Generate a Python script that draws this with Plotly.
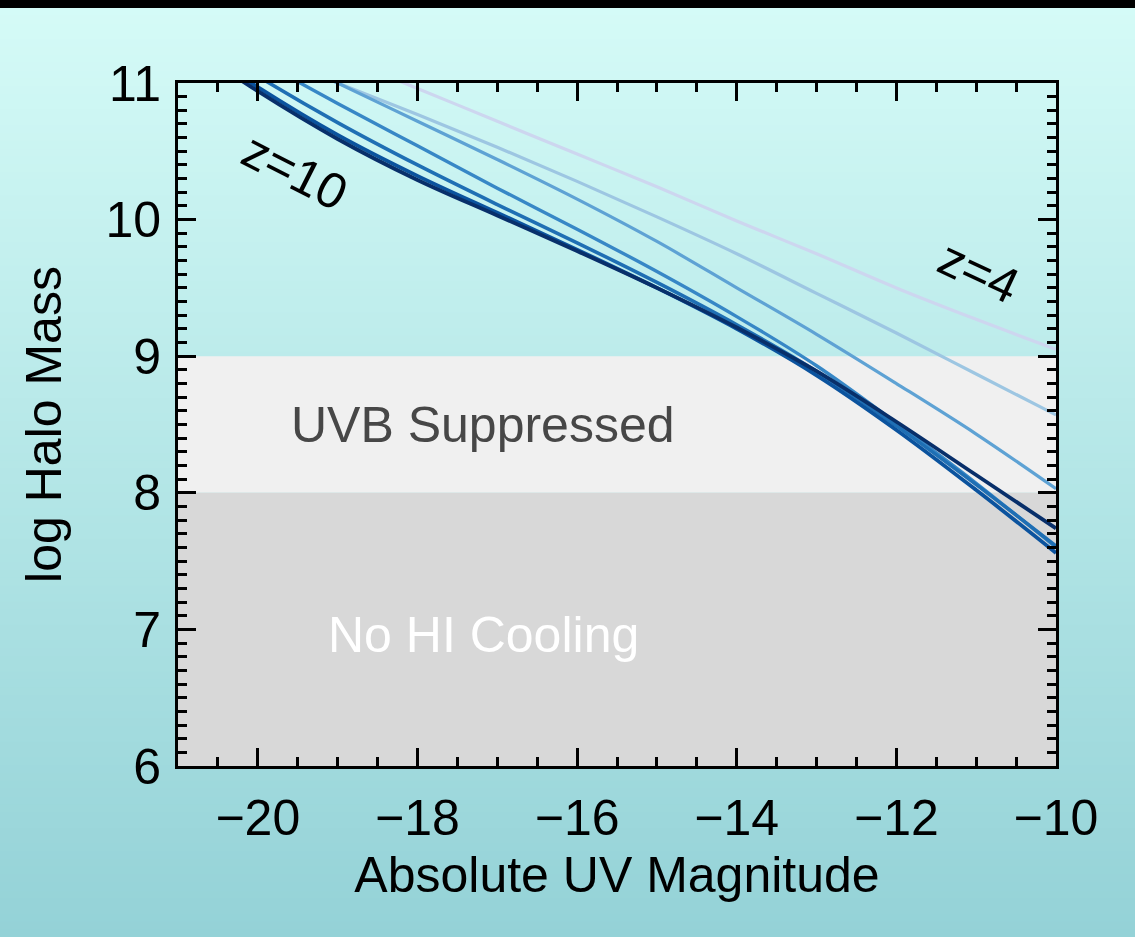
import plotly.graph_objects as go

# ---- data ----
mag = [-21, -20, -19, -18, -17, -16, -15, -14, -13, -12, -11, -10]
redshifts = ["z=4", "z=5", "z=6", "z=7", "z=8", "z=9", "z=10"]
mh_z4 = [11.68, 11.44, 11.20, 10.96, 10.72, 10.48, 10.24, 9.99, 9.75, 9.50, 9.27, 9.05]
mh_z5 = [11.48, 11.24, 11.00, 10.77, 10.53, 10.28, 10.02, 9.75, 9.46, 9.17, 8.87, 8.57]
mh_z6 = [11.58, 11.29, 11.00, 10.72, 10.44, 10.15, 9.84, 9.50, 9.16, 8.80, 8.43, 8.03]
mh_z7 = [11.50, 11.17, 10.85, 10.54, 10.23, 9.93, 9.62, 9.29, 8.93, 8.51, 8.07, 7.60]
mh_z8 = [11.42, 11.05, 10.71, 10.40, 10.11, 9.83, 9.54, 9.23, 8.89, 8.49, 8.06, 7.61]
mh_z9 = [11.36, 10.97, 10.62, 10.32, 10.05, 9.78, 9.50, 9.20, 8.86, 8.46, 8.02, 7.56]
mh_z10 = [11.33, 10.94, 10.59, 10.29, 10.03, 9.77, 9.50, 9.21, 8.89, 8.52, 8.13, 7.74]
series = [mh_z4, mh_z5, mh_z6, mh_z7, mh_z8, mh_z9, mh_z10]
colors = ["#cdd6ef", "#9dc6e2", "#5ea2d4", "#3787c6", "#1f6fb4", "#0b539e", "#082f6a"]
widths = [3.2, 3.2, 3.2, 3.4, 3.6, 3.8, 3.8]

x_ticks = [-20, -18, -16, -14, -12, -10]
y_ticks = [6, 7, 8, 9, 10, 11]

FONT = "Liberation Sans, Arial, Helvetica, sans-serif"
FS = 50

fig = go.Figure()
for name, vals, col, w in zip(redshifts, series, colors, widths):
    fig.add_trace(go.Scatter(x=mag, y=vals, mode="lines", name=name,
                             line=dict(color=col, width=w, shape="spline", smoothing=1.0),
                             showlegend=False))

W, H = 1135, 937
L, R, T, B = 178, 79, 83, 171
pw, ph = W - L - R, H - T - B

def px2x(px):
    return (px - L) / pw

def py2y(py):
    return (H - B - py) / ph

# background gradient (paper shapes)
shapes = []
top_c = (213, 251, 247)
bot_c = (148, 210, 215)
n = 120
for i in range(n):
    f = i / (n - 1)
    c = tuple(int(round(top_c[k] + (bot_c[k] - top_c[k]) * f)) for k in range(3))
    y0 = py2y(H * i / n)
    y1 = py2y(H * (i + 1) / n + 1)
    shapes.append(dict(type="rect", xref="paper", yref="paper", x0=px2x(0), x1=px2x(W),
                       y0=y1, y1=y0, fillcolor="rgb(%d,%d,%d)" % c, line=dict(width=0), layer="below"))
# black strip at top
shapes.append(dict(type="rect", xref="paper", yref="paper", x0=px2x(0), x1=px2x(W),
                   y0=py2y(8), y1=py2y(0), fillcolor="black", line=dict(width=0), layer="below"))
# suppression regions
shapes.append(dict(type="rect", xref="paper", yref="y", x0=0, x1=1, y0=8, y1=9,
                   fillcolor="#f0f0f0", line=dict(width=0), layer="below"))
shapes.append(dict(type="rect", xref="paper", yref="y", x0=0, x1=1, y0=6, y1=8,
                   fillcolor="#d8d8d8", line=dict(width=0), layer="below"))

annotations = [
    dict(x=-19.53, y=10.35, text="z=10", showarrow=False, textangle=27,
         font=dict(family=FONT, size=FS, color="black")),
    dict(x=-10.97, y=9.62, text="z=4", showarrow=False, textangle=25,
         font=dict(family=FONT, size=FS, color="black")),
    dict(x=-17.18, y=8.5, text="UVB Suppressed", showarrow=False,
         font=dict(family=FONT, size=FS, color="#474747")),
    dict(x=-17.17, y=6.96, text="No HI Cooling", showarrow=False,
         font=dict(family=FONT, size=FS, color="white")),
]

axis_common = dict(showgrid=False, zeroline=False, showline=True, linecolor="black",
                   linewidth=3, mirror="ticks", ticks="inside", tickwidth=3,
                   ticklen=18, tickcolor="black",
                   tickfont=dict(family=FONT, size=FS, color="black"))

fig.update_layout(
    width=W, height=H,
    margin=dict(l=L, r=R, t=T, b=B, autoexpand=False),
    paper_bgcolor="rgb(213,251,247)",
    plot_bgcolor="rgba(0,0,0,0)",
    shapes=shapes,
    annotations=annotations,
    xaxis=dict(range=[-21, -10], tickvals=x_ticks, ticklabelstandoff=6,
               minor=dict(ticks="inside", dtick=0.5, tick0=-21, ticklen=9, tickwidth=2.5, tickcolor="black"),
               title=dict(text="Absolute UV Magnitude", standoff=12,
                          font=dict(family=FONT, size=FS, color="black")),
               **axis_common),
    yaxis=dict(range=[6, 11], tickvals=y_ticks, ticklabelstandoff=4,
               minor=dict(ticks="inside", dtick=0.1, tick0=6, ticklen=9, tickwidth=2.5, tickcolor="black"),
               title=dict(text="log Halo Mass", standoff=28,
                          font=dict(family=FONT, size=FS, color="black")),
               **axis_common),
)

fig.write_html("out.html")
